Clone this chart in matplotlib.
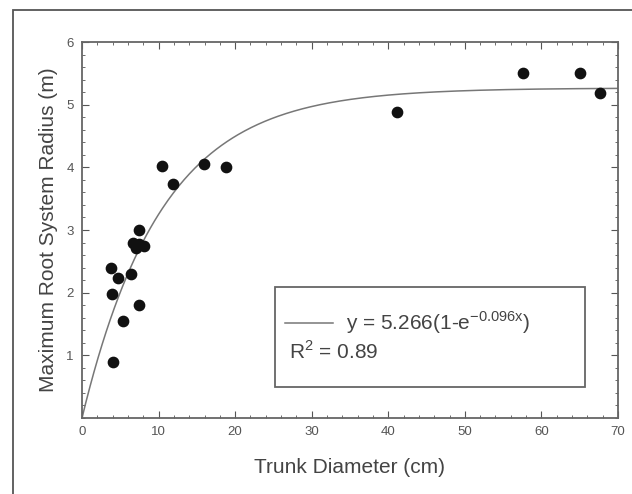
import numpy as np
import matplotlib
matplotlib.use('Agg')
import matplotlib.pyplot as plt
from matplotlib.patches import Rectangle
from matplotlib.ticker import MultipleLocator

plt.rcParams['font.family'] = ['Liberation Sans', 'DejaVu Sans']

# measured points: trunk diameter (cm) vs max root system radius (m)
diameter = [3.8, 3.9, 4.7, 5.3, 4.1, 6.4, 6.7, 7.1, 7.5, 8.1, 7.5, 7.5,
            10.4, 11.9, 15.9, 18.8, 41.1, 57.6, 65.1, 67.6]
radius = [2.4, 1.98, 2.23, 1.55, 0.9, 2.3, 2.8, 2.72, 2.78, 2.75, 3.0, 1.8,
          4.02, 3.74, 4.06, 4.0, 4.88, 5.5, 5.5, 5.18]

# fitted model y = a(1 - e^(-b x))
fit_a = 5.266
fit_b = 0.096
r2 = 0.89

gray = '#555555'

fig = plt.figure(figsize=(6.32, 4.94), dpi=100)
ax = fig.add_axes([82 / 632, 1 - 418 / 494, 536 / 632, 376 / 494])

xs = np.linspace(0, 70, 400)
ax.plot(xs, fit_a * (1 - np.exp(-fit_b * xs)), color='#777777', lw=1.1)
ax.scatter(diameter, radius, s=55, color='#111111', zorder=3)

ax.set_xlim(0, 70)
ax.set_ylim(0, 6)
ax.xaxis.set_major_locator(MultipleLocator(10))
ax.xaxis.set_minor_locator(MultipleLocator(2))
ax.yaxis.set_major_locator(MultipleLocator(1))
ax.yaxis.set_minor_locator(MultipleLocator(0.2))
ax.set_yticks([1, 2, 3, 4, 5, 6])
ax.tick_params(which='both', direction='in', top=True, right=True,
               color=gray, labelcolor=gray, labelsize=9.5)
ax.tick_params(which='major', length=5, pad=6)
ax.tick_params(which='minor', length=2.5)
for sp in ax.spines.values():
    sp.set_color('#666666')
    sp.set_linewidth(1.3)

ax.set_xlabel('Trunk Diameter (cm)', fontsize=15, color='#444444', labelpad=14)
ax.set_ylabel('Maximum Root System Radius (m)', fontsize=15, color='#444444', labelpad=6)

# legend box drawn by hand
leg = Rectangle((275 / 632, 1 - 387 / 494), 310 / 632, 100 / 494,
                transform=fig.transFigure, fill=False, ec='#666666', lw=1.3)
fig.patches.append(leg)
fig.lines.append(plt.Line2D([285 / 632, 333 / 632], [1 - 323 / 494] * 2,
                            transform=fig.transFigure, color='#777777', lw=1.1))
fig.text(346 / 632, 1 - 323 / 494, r'y = 5.266(1-e$^{\mathregular{-0.096x}}$)',
         fontsize=15, color='#444444', va='center')
fig.text(289 / 632, 1 - 351 / 494, r'R$^{\mathregular{2}}$ = 0.89',
         fontsize=15, color='#444444', va='center')

# outer frame
fig.patches.append(Rectangle((13 / 632, -0.05), 1.1, 1.05 - 10 / 494,
                             transform=fig.transFigure, fill=False,
                             ec='#555555', lw=1.3))

fig.savefig('out.png', dpi=100)
